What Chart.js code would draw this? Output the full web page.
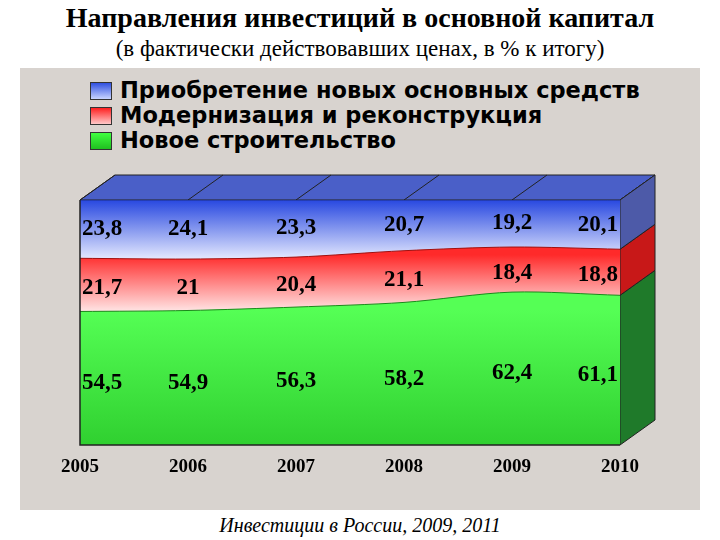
<!DOCTYPE html>
<html><head><meta charset="utf-8">
<script src="https://cdn.jsdelivr.net/npm/chart.js@4"></script>
<style>
body{margin:0;width:720px;height:540px;background:#fff;position:relative;overflow:hidden;font-family:"Liberation Serif",serif}
#panel{position:absolute;left:20px;top:68px;width:680px;height:442px;background:#d8d3cf}
.t{position:absolute;left:0;width:720px;text-align:center;color:#000}
#title{top:2px;font-size:28px;font-weight:bold}
#sub{top:36px;font-size:23px}
#src{top:514px;font-size:20px;font-style:italic}
#legend{position:absolute;left:90px;top:78px;font-family:"DejaVu Sans",sans-serif;font-weight:bold;font-size:22.5px;line-height:25px}
.li{display:flex;align-items:center}
.sw{width:20px;height:16px;border:1px solid #333;margin-right:8px}
canvas{position:absolute;left:0;top:0}
</style></head><body>
<div id="panel"></div>
<div class="t" id="title">Направления инвестиций в основной капитал</div>
<div class="t" id="sub">(в фактически действовавших ценах, в % к итогу)</div>
<div id="legend">
<div class="li"><div class="sw" style="background:linear-gradient(#3050e0,#c8d4ff)"></div>Приобретение новых основных средств</div>
<div class="li"><div class="sw" style="background:linear-gradient(#ff2020,#ffc8c8)"></div>Модернизация и реконструкция</div>
<div class="li"><div class="sw" style="background:linear-gradient(#40ff40,#20c020)"></div>Новое строительство</div>
</div>
<div class="t" id="src">Инвестиции в России, 2009, 2011</div>
<div style="position:absolute;left:0;top:0;width:720px;height:540px"><canvas id="c" width="720" height="540"></canvas></div>
<script>
const years=["2005","2006","2007","2008","2009","2010"];
const newBuild=[54.5,54.9,56.3,58.2,62.4,61.1];
const modern=[21.7,21,20.4,21.1,18.4,18.8];
const purchase=[23.8,24.1,23.3,20.7,19.2,20.1];
const fmt=v=>String(v).replace('.',',');
const ctx=document.getElementById('c').getContext('2d');
function grad(c1,c2,t,b){const g=ctx.createLinearGradient(0,t,0,b);g.addColorStop(0,c1);g.addColorStop(1,c2);return g;}
const DX=35,DY=25;
const n=years.length-1;
const deco={id:'deco',
beforeDatasetsDraw(ch){
 const c=ch.ctx,a=ch.chartArea,x=ch.scales.x,y=ch.scales.y;
 c.save();c.fillStyle='#4a5fc8';c.strokeStyle='#222';c.lineWidth=1;
 c.beginPath();c.moveTo(a.left,a.top);c.lineTo(a.left+DX,a.top-DY);c.lineTo(a.right+DX,a.top-DY);c.lineTo(a.right,a.top);c.closePath();c.fill();c.stroke();
 years.forEach((_,i)=>{const px=x.getPixelForValue(i);c.beginPath();c.moveTo(px,a.top);c.lineTo(px+DX,a.top-DY);c.stroke();});
 const r=a.right;
 const b0=y.getPixelForValue(0),b1=y.getPixelForValue(newBuild[n]),b2=y.getPixelForValue(newBuild[n]+modern[n]),b3=a.top;
 const side=(t,b,col)=>{c.fillStyle=col;c.beginPath();c.moveTo(r,b);c.lineTo(r,t);c.lineTo(r+DX,t-DY);c.lineTo(r+DX,b-DY);c.closePath();c.fill();c.stroke();};
 side(b1,b0,'#1f7a2a');side(b2,b1,'#c81818');side(b3,b2,'#4d5aa8');
 c.restore();
},
afterDatasetsDraw(ch){
 const c=ch.ctx,a=ch.chartArea,x=ch.scales.x,y=ch.scales.y;
 c.save();c.strokeStyle='#222';c.lineWidth=1.5;
 c.beginPath();c.moveTo(a.left,a.top);c.lineTo(a.left,a.bottom);c.lineTo(a.right,a.bottom);c.stroke();
 c.fillStyle='#000';c.textBaseline='middle';
 years.forEach((yr,i)=>{
  const px=x.getPixelForValue(i);
  c.font='bold 23px "Liberation Serif"';
  c.textAlign=i==0?'left':(i==n?'right':'center');
  const ox=i==0?2:(i==n?-2:0);
  const g=newBuild[i],m=modern[i],p=purchase[i];
  c.fillText(fmt(p),px+ox,y.getPixelForValue(g+m+p/2));
  c.fillText(fmt(m),px+ox,y.getPixelForValue(g+m/2)+3);
  c.fillText(fmt(g),px+ox,y.getPixelForValue(g/2)+5);
  c.textAlign='center';c.font='bold 19px "Liberation Serif"';
  c.fillText(yr,px,a.bottom+22);
 });
 c.restore();
}};
new Chart(ctx,{type:'line',
data:{labels:years,datasets:[
 {data:newBuild,fill:'origin',backgroundColor:grad('#55ff55','#30d030',310,445),borderColor:'#1a8a1a',borderWidth:1,pointRadius:0,tension:0.3},
 {data:modern,fill:'-1',backgroundColor:grad('#ff2a2a','#ffe0e0',255,310),borderColor:'#a01010',borderWidth:1,pointRadius:0,tension:0.3},
 {data:purchase,fill:'-1',backgroundColor:grad('#2848e0','#e8ecff',200,260),borderColor:'#203080',borderWidth:1,pointRadius:0,tension:0.3}
]},
options:{responsive:false,animation:false,
 layout:{padding:{left:80,right:100,top:200,bottom:95}},
 plugins:{legend:{display:false},tooltip:{enabled:false}},
 scales:{x:{display:false,offset:false},y:{display:false,stacked:true,min:0,max:100}}},
plugins:[deco]});
</script>
</body></html>
